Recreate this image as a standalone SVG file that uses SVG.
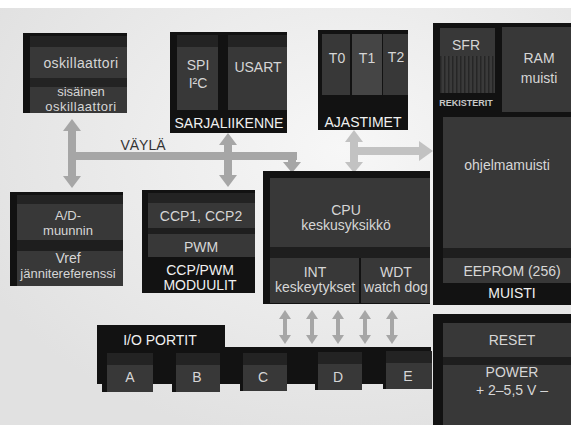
<svg xmlns="http://www.w3.org/2000/svg" width="571" height="425" viewBox="0 0 571 425">
<defs>
<style>
text{font-family:"Liberation Sans",Arial,sans-serif;font-size:14px;fill:#d6d6d6;text-anchor:middle}
.lb{fill:#f0f0f0}
.sm{font-size:13px}
.outer{fill:#121212}
.top{fill:#232323}
.face{fill:#383838}
.face2{fill:#454545}
.strip{fill:#1e1e1e}
.arr{fill:#a6a6a6}
.arrl{fill:#c2c2c2}
</style>
<pattern id="stripes" width="4" height="4" patternUnits="userSpaceOnUse">
<rect width="4" height="4" fill="#3a3a3a"/>
<rect width="1.5" height="4" fill="#262626"/>
</pattern>
<radialGradient id="bg" cx="0.6" cy="0.35" r="0.7">
<stop offset="0" stop-color="#f7f7f7"/>
<stop offset="1" stop-color="#e1e1e1"/>
</radialGradient>
</defs>
<rect width="571" height="425" fill="url(#bg)"/>
<rect width="571" height="8" fill="#ffffff"/>

<g id="connectors">
<rect class="arr" x="68" y="152" width="229" height="8"/>
<rect class="arr" x="68" y="128" width="8" height="52"/>
<polygon class="arr" points="63,131 72,119 81,131"/>
<polygon class="arr" points="63,176 72,188 81,176"/>
<rect class="arr" x="224" y="142" width="8" height="36"/>
<polygon class="arr" points="219,145 228,133 237,145"/>
<polygon class="arr" points="219,175 228,187 237,175"/>
<rect class="arr" x="288" y="152" width="8" height="11"/>
<polygon class="arr" points="283,162 301,162 292,173"/>
<rect class="arrl" x="350" y="140" width="8" height="25"/>
<polygon class="arrl" points="345,142 354,130 363,142"/>
<polygon class="arrl" points="345,162 354,173 363,162"/>
<rect class="arrl" x="354" y="147" width="66" height="8"/>
<polygon class="arrl" points="419,141 433,151 419,161"/>
<g class="arr">
<rect x="283" y="316" width="4" height="22"/><polygon points="279,319 285,310 291,319"/><polygon points="279,335 285,344 291,335"/>
<rect x="310" y="316" width="4" height="22"/><polygon points="306,319 312,310 318,319"/><polygon points="306,335 312,344 318,335"/>
<rect x="336" y="316" width="4" height="22"/><polygon points="332,319 338,310 344,319"/><polygon points="332,335 338,344 344,335"/>
<rect x="363" y="316" width="4" height="22"/><polygon points="359,319 365,310 371,319"/><polygon points="359,335 365,344 371,335"/>
<rect x="390" y="316" width="4" height="22"/><polygon points="386,319 392,310 398,319"/><polygon points="386,335 392,344 398,335"/>
</g>
<text x="143" y="150" style="fill:#333">VÄYLÄ</text>
</g>

<g id="oskillaattori">
<rect class="outer" x="23" y="33" width="104" height="80"/>
<rect class="top" x="30" y="36" width="97" height="11"/>
<rect class="face" x="30" y="47" width="97" height="31"/>
<rect class="top" x="30" y="78" width="97" height="9"/>
<rect class="face" x="30" y="87" width="97" height="26"/>
<text x="81" y="68" style="letter-spacing:0.4px">oskillaattori</text>
<text class="sm" x="81" y="96">sisäinen</text>
<text class="sm" x="81" y="111" style="letter-spacing:0.5px">oskillaattori</text>
</g>

<g id="sarjaliikenne">
<rect class="outer" x="170" y="32" width="117" height="101"/>
<rect class="top" x="177" y="35" width="41" height="12"/>
<rect class="face" x="177" y="47" width="41" height="63"/>
<rect class="top" x="228" y="35" width="59" height="12"/>
<rect class="face" x="228" y="47" width="59" height="63"/>
<text x="198" y="70">SPI</text>
<text x="198" y="88">I²C</text>
<text x="258" y="72">USART</text>
<text class="lb" x="229" y="128">SARJALIIKENNE</text>
</g>

<g id="ajastimet">
<rect class="outer" x="318" y="30" width="90" height="100"/>
<rect class="face" x="322" y="34" width="28" height="61"/>
<rect class="face2" x="352" y="34" width="30" height="61"/>
<rect class="face" x="383" y="34" width="25" height="61"/>
<text x="337" y="63">T0</text>
<text x="367" y="63">T1</text>
<text x="396" y="62">T2</text>
<text class="lb" x="363" y="127">AJASTIMET</text>
</g>

<g id="muisti">
<rect class="outer" x="433" y="23" width="138" height="282"/>
<rect x="440" y="28" width="55" height="65" fill="url(#stripes)"/>
<rect class="face" x="440" y="28" width="55" height="28"/>
<rect class="face" x="502" y="27" width="69" height="85"/>
<rect class="face" x="443" y="117" width="128" height="131"/>
<rect class="strip" x="443" y="248" width="128" height="10"/>
<rect class="face" x="443" y="258" width="128" height="25"/>
<text x="466" y="50">SFR</text>
<text x="466" y="106" style="font-size:9px;font-weight:bold;fill:#c8c8c8">REKISTERIT</text>
<text x="539" y="63">RAM</text>
<text x="539" y="83">muisti</text>
<text x="507" y="170">ohjelmamuisti</text>
<text x="512" y="276">EEPROM (256)</text>
<text class="lb" x="512" y="298">MUISTI</text>
</g>

<g id="reset-power">
<rect class="outer" x="433" y="314" width="138" height="111"/>
<rect class="face" x="443" y="323" width="128" height="34"/>
<rect class="strip" x="443" y="357" width="128" height="8"/>
<rect class="face" x="443" y="365" width="128" height="60"/>
<text x="512" y="345">RESET</text>
<text x="512" y="377">POWER</text>
<text x="512" y="395">+  2–5,5 V  –</text>
</g>

<g id="cpu">
<rect class="outer" x="263" y="171" width="167" height="133"/>
<rect class="face" x="270" y="178" width="160" height="69"/>
<rect class="strip" x="270" y="247" width="160" height="11"/>
<rect class="face" x="270" y="258" width="89" height="45"/>
<rect class="face" x="361" y="258" width="69" height="45"/>
<text x="346" y="215">CPU</text>
<text x="346" y="230">keskusyksikkö</text>
<text x="315" y="277">INT</text>
<text x="315" y="292">keskeytykset</text>
<text x="396" y="277">WDT</text>
<text x="396" y="292">watch dog</text>
</g>

<g id="ad-muunnin">
<rect class="outer" x="10" y="192" width="113" height="94"/>
<rect class="top" x="17" y="195" width="106" height="9"/>
<rect class="face" x="17" y="204" width="106" height="36"/>
<rect class="strip" x="17" y="240" width="106" height="11"/>
<rect class="face" x="17" y="251" width="106" height="35"/>
<text class="sm" x="68" y="220">A/D-</text>
<text class="sm" x="68" y="235">muunnin</text>
<text x="68" y="263">Vref</text>
<text x="68" y="278" style="font-size:13px">jännitereferenssi</text>
</g>

<g id="ccp-pwm">
<rect class="outer" x="142" y="190" width="113" height="103"/>
<rect class="top" x="148" y="193" width="107" height="10"/>
<rect class="face" x="148" y="203" width="107" height="25"/>
<rect class="strip" x="148" y="228" width="107" height="6"/>
<rect class="face" x="148" y="234" width="107" height="23"/>
<text x="201" y="221">CCP1, CCP2</text>
<text x="201" y="252">PWM</text>
<text class="lb" x="200" y="275">CCP/PWM</text>
<text class="lb" x="200" y="290">MODUULIT</text>
</g>

<g id="io-portit">
<rect class="outer" x="97" y="325" width="128" height="26"/>
<rect class="outer" x="97" y="347" width="334" height="37"/>
<text class="lb" x="160" y="345">I/O  PORTIT</text>
</g>
<g id="port-a"><rect class="outer" x="102" y="353" width="51" height="39"/><rect class="top" x="107" y="353" width="46" height="12"/><rect class="face" x="107" y="365" width="46" height="27"/><text x="130" y="382">A</text></g>
<g id="port-b"><rect class="outer" x="172" y="353" width="48" height="39"/><rect class="top" x="176" y="353" width="44" height="12"/><rect class="face" x="176" y="365" width="44" height="27"/><text x="197" y="382">B</text></g>
<g id="port-c"><rect class="outer" x="240" y="353" width="47" height="38"/><rect class="top" x="243" y="353" width="44" height="12"/><rect class="face" x="243" y="365" width="44" height="26"/><text x="263" y="382">C</text></g>
<g id="port-d"><rect class="outer" x="315" y="352" width="47" height="38"/><rect class="top" x="318" y="352" width="44" height="12"/><rect class="face" x="318" y="364" width="44" height="26"/><text x="338" y="382">D</text></g>
<g id="port-e"><rect class="outer" x="383" y="351" width="49" height="38"/><rect class="top" x="386" y="351" width="46" height="12"/><rect class="face" x="386" y="363" width="46" height="26"/><text x="408" y="381">E</text></g>
</svg>
